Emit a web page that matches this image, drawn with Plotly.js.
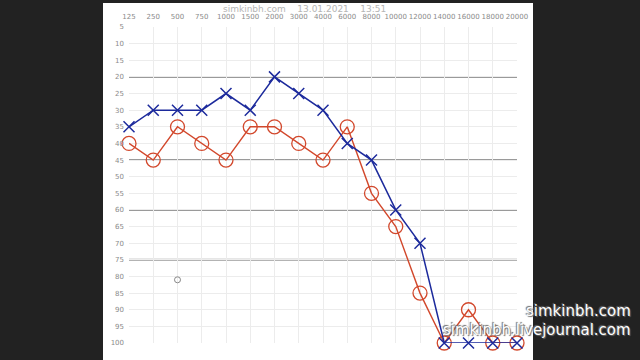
<!DOCTYPE html>
<html><head><meta charset="utf-8">
<script src="https://cdn.plot.ly/plotly-3.0.1.min.js"></script>
<style>html,body{margin:0;padding:0;background:#222;}
#panel{position:absolute;left:103px;top:3px;width:430px;height:357px;background:#fff;}
#c{position:absolute;left:0;top:0;width:640px;height:360px;}</style>
</head><body><div id="panel"></div><div id="c"></div>
<script>
const freqs = ["125","250","500","750","1000","1500","2000","3000","4000","6000","8000","10000","12000","14000","16000","18000","20000"];
const rightEar = [35,30,30,30,25,30,20,25,30,40,45,60,70,100,100,100,100];
const leftEar = [40,45,35,40,45,35,35,40,45,35,55,65,85,100,90,100,100];
const strayX = ["500"];
const strayY = [81];
const yTicks = [5,10,15,20,25,30,35,40,45,50,55,60,65,70,75,80,85,90,95,100];
const markLines = [20,45,60,75];

const traces = [
  {x: freqs, y: leftEar, type:'scatter', mode:'lines+markers', cliponaxis:false,
   line:{color:'#d2482c', width:1.4},
   marker:{symbol:'circle-open', size:14, line:{color:'#d2482c', width:1.3}, color:'#d2482c'}},
  {x: freqs, y: rightEar, type:'scatter', mode:'lines+markers', cliponaxis:false,
   line:{color:'#1c2a9c', width:1.5},
   marker:{symbol:'x-thin-open', size:11, line:{color:'#1c2a9c', width:1.5}, color:'#1c2a9c'}},
  {x: strayX, y: strayY, type:'scatter', mode:'markers',
   marker:{symbol:'circle-open', size:6, line:{color:'#888', width:1}, color:'#888'}}
];

const shapes = [];
markLines.forEach(v => shapes.push({type:'line', xref:'paper', yref:'y', x0:0, x1:1, y0:v, y1:v,
  line:{color:'#9a9a9a', width:2}, layer:'below'}));

const layout = {
  width:640, height:360,
  margin:{l:129, r:123, t:27, b:17},
  paper_bgcolor:'rgba(0,0,0,0)', plot_bgcolor:'#ffffff',
  showlegend:false,
  xaxis:{type:'category', side:'top', range:[0,16], showgrid:true, gridcolor:'#ececec', gridwidth:1,
    zeroline:false, showline:false, ticks:'', tickangle:0, tickfont:{family:'DejaVu Sans', size:7, color:'#8a8a8a'}, ticklabelstandoff:6},
  yaxis:{range:[100,5], tickvals:yTicks, showgrid:true, gridcolor:'#ececec', gridwidth:1, zeroline:false,
    showline:false, ticks:'', tickfont:{family:'DejaVu Sans', size:7, color:'#8a8a8a'}, ticklabelstandoff:4},
  shapes: shapes,
  annotations:[
    {xref:'paper', yref:'paper', x:(304-129)/388, y:(343-9)/316, text:'simkinbh.com&nbsp;&nbsp;&nbsp;&nbsp;13.01.2021&nbsp;&nbsp;&nbsp;&nbsp;13:51',
     showarrow:false, font:{family:'DejaVu Sans', size:9, color:'#b5b5b5'}, xanchor:'center', yanchor:'middle'},
    {xref:'paper', yref:'paper', x:(633-129)/388, y:(343-311)/316, text:'simkinbh.com', showarrow:false,
     xanchor:'right', yanchor:'middle', font:{family:'DejaVu Sans', size:15, color:'#ffffff', shadow:'1px 1px 1px #666, -1px -1px 1px #666'}},
    {xref:'paper', yref:'paper', x:(633-129)/388, y:(343-330)/316, text:'simkinbh.livejournal.com', showarrow:false,
     xanchor:'right', yanchor:'middle', font:{family:'DejaVu Sans', size:15, color:'#ffffff', shadow:'1px 1px 1px #666, -1px -1px 1px #666'}}
  ]
};
Plotly.newPlot('c', traces, layout, {displayModeBar:false, staticPlot:true});
</script></body></html>
